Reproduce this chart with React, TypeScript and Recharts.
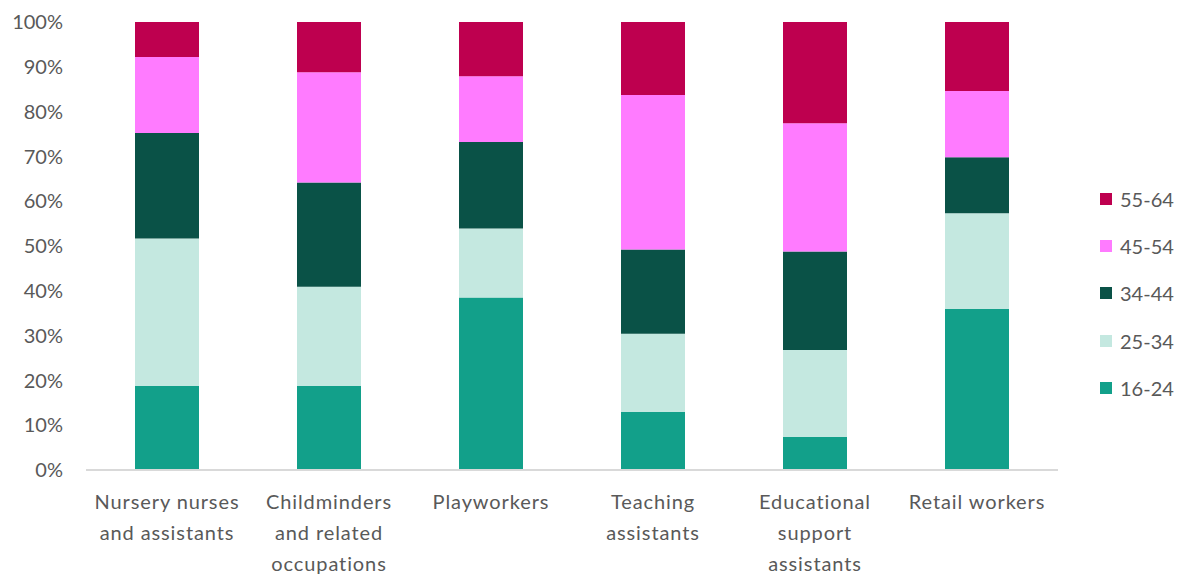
import React from "react";
import { BarChart, Bar, XAxis, YAxis } from "recharts";

const categories = [
  "Nursery nurses\nand assistants",
  "Childminders\nand related\noccupations",
  "Playworkers",
  "Teaching\nassistants",
  "Educational\nsupport\nassistants",
  "Retail workers",
];
const age16to24 = [18.8, 18.8, 38.5, 13.0, 7.4, 36.0];
const age25to34 = [32.9, 22.1, 15.4, 17.4, 19.4, 21.3];
const age34to44 = [23.5, 23.3, 19.3, 18.8, 22.0, 12.5];
const age45to54 = [17.0, 24.6, 14.7, 34.5, 28.6, 14.8];
const age55to64 = [7.8, 11.2, 12.1, 16.3, 22.6, 15.4];
const yTicks = [0, 10, 20, 30, 40, 50, 60, 70, 80, 90, 100];

const seriesDefs = [
  { key: "a1624", name: "16-24", color: "#12A08A", values: age16to24 },
  { key: "a2534", name: "25-34", color: "#C4E8E0", values: age25to34 },
  { key: "a3444", name: "34-44", color: "#0A5247", values: age34to44 },
  { key: "a4554", name: "45-54", color: "#FF7BFF", values: age45to54 },
  { key: "a5564", name: "55-64", color: "#BE004F", values: age55to64 },
];

const data = categories.map((c, i) => {
  const row: any = { category: c };
  seriesDefs.forEach((s) => (row[s.key] = s.values[i]));
  return row;
});

const FONT = "Lato, 'Open Sans', sans-serif";
const TEXT = "#595959";

const XTick = (props: any) => {
  const { x, y, payload } = props;
  const lines = String(payload.value).split("\n");
  return (
    <text
      x={x}
      y={y}
      textAnchor="middle"
      fill={TEXT}
      fontSize={20}
      fontFamily={FONT}
      style={{ letterSpacing: "0.9px" }}
    >
      {lines.map((l, i) => (
        <tspan key={i} x={x} y={y + 39 + i * 31}>
          {l}
        </tspan>
      ))}
    </text>
  );
};

const LegendBox = () => {
  const items = [...seriesDefs].reverse();
  return (
    <div style={{ position: "absolute", left: 1092, top: 167, width: 80, fontFamily: FONT }}>
      {items.map((s) => (
        <div key={s.key} style={{ height: 47.3, display: "flex", alignItems: "center" }}>
          <div style={{ width: 12, height: 12, background: s.color, marginRight: 8 }} />
          <span style={{ fontSize: 20, color: TEXT }}>{s.name}</span>
        </div>
      ))}
    </div>
  );
};

export default function App() {
  return (
    <div style={{ position: "relative", width: 1175, height: 569 }}>
      <BarChart
        width={1175}
        height={569}
        data={data}
        margin={{ top: 14, right: 125, bottom: 7, left: 18 }}
        barSize={64}
      >
        <XAxis
          dataKey="category"
          interval={0}
          height={100}
          tickSize={0}
          tickMargin={0}
          tick={<XTick />}
          axisLine={{ stroke: "#D9D9D9", strokeWidth: 2 }}
          tickLine={false}
        />
        <YAxis
          width={60}
          domain={[0, 100]}
          ticks={yTicks}
          interval={0}
          tickFormatter={(v: number) => `${v}%`}
          axisLine={false}
          tickLine={false}
          tickSize={0}
          tickMargin={23}
          tick={{ fill: TEXT, fontSize: 20, fontFamily: FONT }}
        />
        {seriesDefs.map((s) => (
          <Bar
            key={s.key}
            dataKey={s.key}
            name={s.name}
            stackId="a"
            fill={s.color}
            isAnimationActive={false}
          />
        ))}
      </BarChart>
      <LegendBox />
    </div>
  );
}
